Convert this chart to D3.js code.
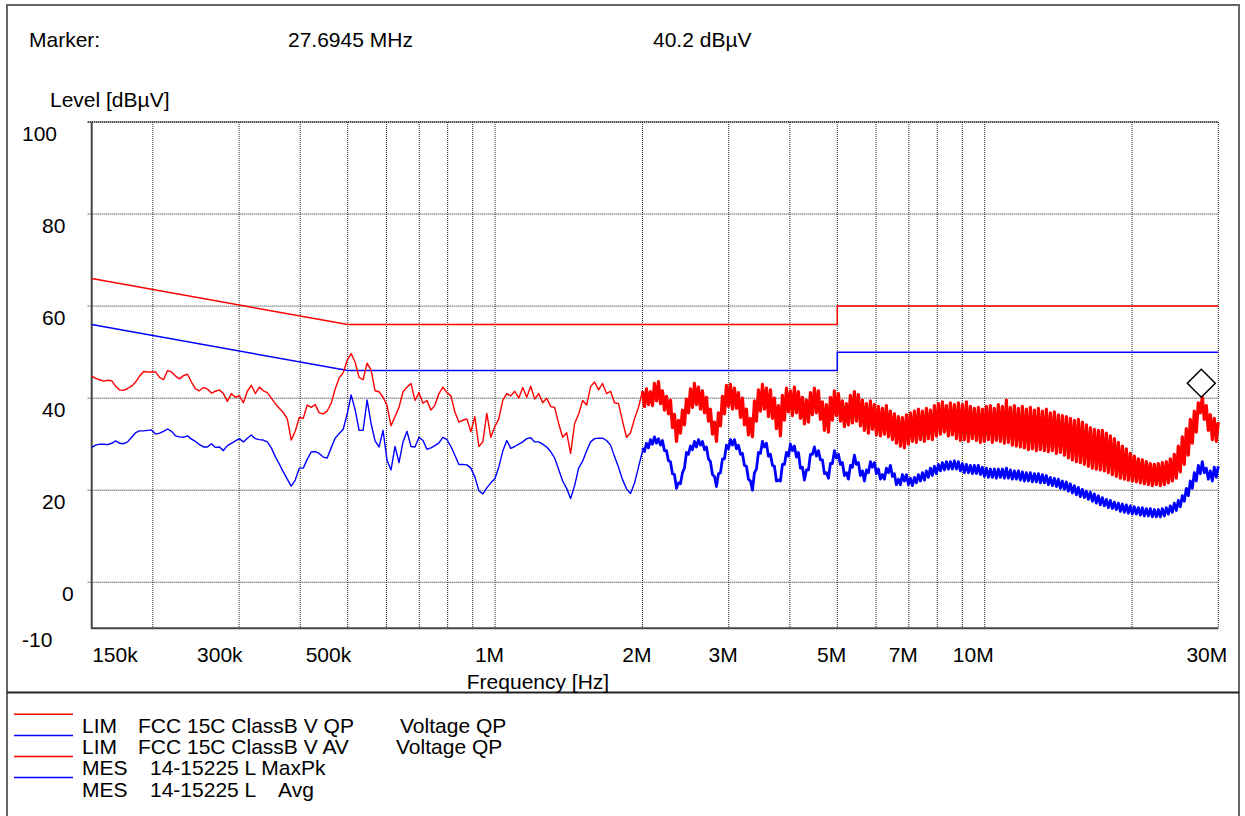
<!DOCTYPE html>
<html>
<head>
<meta charset="utf-8">
<script src="https://cdn.jsdelivr.net/npm/d3@7"></script>
<style>
  body { margin: 0; background: #fff; }
  svg text { font-family: "Liberation Sans", Arial, sans-serif; font-size: 21px; fill: #000; }
</style>
</head>
<body>
<svg id="chart" width="1245" height="816"></svg>
<script>
// ---- data ----
var levelTicks = [100, 80, 60, 40, 20, 0, -10];
var gridLevels = [0, 20, 40, 60, 80, 100];
var freqGrid = [2e5, 3e5, 4e5, 5e5, 6e5, 7e5, 8e5, 9e5, 1e6, 2e6, 3e6, 4e6, 5e6, 6e6, 7e6, 8e6, 9e6, 1e7, 2e7, 3e7];
var freqTicks = [1.5e5, 3e5, 5e5, 1e6, 2e6, 3e6, 5e6, 7e6, 1e7, 3e7];
var freqLabels = ["150k", "300k", "500k", "1M", "2M", "3M", "5M", "7M", "10M", "30M"];

// limit lines (FCC 15C class B, voltage)
var qpFreq = [1.5e5, 5e5, 5e6, 5e6, 3e7];
var qpLevel = [66, 56, 56, 60, 60];
var avFreq = [1.5e5, 5e5, 5e6, 5e6, 3e7];
var avLevel = [56, 46, 46, 50, 50];

// receiver sweeps: two frequency bands, points log-spaced inside each band
var lowBand = [1.5e5, 2e6];
var highBand = [2e6, 3e7];

var maxPkLow = [
  44.8,44.3,44.0,43.7,43.9,43.8,42.6,41.8,41.7,42.1,
  42.6,43.5,44.8,45.8,45.7,45.7,45.7,44.5,44.0,46.0,
  45.7,44.8,44.2,44.9,45.2,43.5,42.0,41.6,42.3,42.0,
  41.1,41.5,41.8,41.0,39.3,41.0,40.2,40.5,39.0,41.5,
  42.8,41.0,42.4,41.6,41.2,40.0,38.8,37.8,36.9,35.5,
  30.9,32.8,35.8,35.6,38.5,38.0,38.6,36.8,36.6,37.2,
  38.9,42.0,44.4,45.5,48.2,49.7,47.8,44.5,44.0,47.6,
  46.1,41.6,41.4,40.2,38.4,34.0,36.0,38.0,41.4,42.4,
  43.2,39.5,41.2,38.9,39.5,37.4,38.5,41.0,42.4,41.2,
  40.5,37.0,34.8,35.2,35.5,32.7,36.0,29.5,30.5,36.7,
  31.5,33.8,35.5,39.5,41.0,40.5,41.5,40.0,42.3,40.2,
  42.6,39.8,41.0,39.0,40.0,38.2,38.0,34.5,31.5,32.5,
  28.0,34.5,36.5,39.5,38.5,42.5,43.5,41.8,43.2,41.0,
  41.5,39.0,38.8,35.0,31.5,32.5,35.5,38.0,41.5
];

var maxPkHigh = [
  41.5,38.2,42.0,38.6,41.4,38.4,43.2,39.4,43.6,38.8,
  41.6,37.4,40.4,36.6,39.6,33.6,36.5,30.6,35.2,32.4,
  37.4,34.2,39.8,36.8,42.0,38.0,43.2,38.6,42.4,37.6,
  41.6,36.8,40.2,35.0,37.6,32.2,34.8,30.6,36.8,34.0,
  40.4,36.6,42.8,38.2,43.0,37.6,42.2,37.8,41.2,35.8,
  40.0,34.2,37.6,32.0,35.6,31.6,39.4,35.0,41.8,37.2,
  43.0,37.6,42.2,36.0,41.8,35.6,40.0,33.4,38.4,31.8,
  40.6,35.2,42.2,37.0,41.6,36.2,42.4,36.8,41.4,35.6,
  40.2,34.4,39.6,34.8,41.2,36.4,42.2,36.8,41.6,35.4,
  39.2,33.0,38.6,32.6,40.2,35.2,41.6,36.2,41.0,35.0,
  39.4,33.8,38.8,34.2,40.6,34.6,41.4,35.0,40.8,34.0,
  39.6,33.0,38.8,32.4,39.4,33.2,38.6,32.0,38.2,31.8,
  37.8,32.2,38.4,31.6,37.2,31.0,36.6,30.2,36.0,29.6,
  35.8,29.2,36.4,30.0,36.8,30.6,37.2,30.4,37.6,31.0,
  37.2,30.6,37.8,31.2,37.4,31.0,38.4,31.8,38.8,32.2,
  39.2,32.6,38.4,31.8,39.0,32.0,38.6,31.2,39.0,30.8,
  38.6,31.0,39.2,30.6,38.2,31.2,37.8,30.8,38.0,30.4,
  37.6,30.6,38.2,31.0,38.4,30.4,37.8,30.8,38.6,30.6,
  38.2,30.2,39.6,30.4,38.0,29.8,38.4,29.6,37.8,29.4,
  38.2,29.2,37.6,28.8,38.0,29.0,37.4,28.6,37.8,28.8,
  37.2,28.6,37.6,28.4,36.8,28.6,37.0,28.0,36.4,28.2,
  36.2,27.6,36.0,27.0,35.6,26.6,35.2,26.2,35.4,26.0,
  34.8,25.6,34.2,25.2,33.6,24.8,33.2,24.6,33.0,24.4,
  33.0,24.2,32.4,23.8,31.8,23.4,31.2,23.0,30.4,22.6,
  29.6,22.4,29.0,22.2,28.0,22.0,27.4,21.8,26.8,21.6,
  26.6,21.4,26.2,21.2,25.8,21.0,25.6,21.2,25.8,21.0,
  26.0,21.2,26.2,21.6,26.8,22.0,27.8,22.6,29.6,24.0,
  31.6,25.6,33.4,27.6,35.4,30.2,37.2,32.6,39.0,36.8,
  40.2,35.4,38.4,33.0,36.4,31.0,35.6,30.6,34.8
];

var avgLow = [
  29.3,29.8,30.0,30.0,29.9,30.2,30.7,30.2,30.1,30.5,
  31.5,32.5,32.9,32.9,33.0,33.1,32.2,32.4,32.8,33.3,
  32.8,31.8,31.6,31.5,31.8,31.1,30.6,29.9,29.4,29.4,
  30.1,29.3,29.4,28.6,29.7,30.2,30.7,31.2,30.5,31.3,
  32.0,31.2,31.0,30.9,30.5,29.2,27.3,25.7,24.0,22.4,
  20.9,22.2,24.8,24.8,26.7,28.3,28.4,28.0,27.2,27.0,
  29.2,31.3,32.3,33.2,36.5,40.7,37.5,33.0,33.0,39.6,
  34.5,30.7,29.4,33.0,26.5,24.4,29.5,26.0,30.5,32.8,
  29.5,29.4,31.5,30.8,28.9,29.2,29.7,30.3,31.5,31.0,
  29.5,27.6,25.6,25.6,25.5,24.8,22.9,19.9,19.2,20.5,
  21.6,22.5,25.0,28.5,30.8,29.1,29.5,30.0,30.5,31.2,
  31.4,30.5,30.5,30.0,29.4,28.4,27.0,24.5,22.0,20.4,
  18.2,21.0,24.8,26.3,28.5,30.5,31.2,31.3,31.3,30.8,
  29.8,27.3,25.0,22.3,20.3,19.3,21.5,25.0,28.5
];

var avgHigh = [
  29.2,28.4,30.2,29.2,31.0,30.0,31.6,30.2,31.2,29.8,
  30.8,28.6,28.6,26.4,26.2,23.6,23.4,20.4,21.6,21.4,
  23.8,24.8,28.2,27.8,29.6,28.8,30.6,29.4,31.0,29.8,
  30.6,28.8,29.4,26.8,26.2,23.4,23.0,20.8,23.6,23.8,
  26.8,26.8,29.8,29.0,31.0,29.8,31.0,29.0,29.8,27.8,
  28.0,25.4,25.2,22.4,22.0,20.0,23.8,24.6,28.2,28.0,
  30.6,29.4,30.2,27.4,27.8,25.4,25.2,22.0,22.2,22.0,
  25.6,25.6,28.2,27.4,30.0,28.6,29.6,27.2,28.2,24.8,
  25.0,22.2,24.4,24.4,27.8,27.8,29.4,27.4,28.6,26.6,
  26.6,23.6,23.8,22.6,25.8,25.8,28.6,27.0,27.8,25.6,
  26.0,23.2,23.8,22.4,25.4,25.0,27.6,25.6,26.0,23.2,
  24.2,22.0,24.4,23.8,26.2,25.0,26.0,23.6,24.6,22.4,
  23.4,22.4,24.8,23.8,25.4,23.0,23.6,21.2,22.4,21.2,
  23.4,22.0,23.4,21.2,22.6,21.0,22.8,21.6,23.4,22.0,
  23.8,22.2,24.2,22.8,24.8,23.2,25.2,23.6,25.6,24.2,
  26.0,24.4,26.2,24.6,26.2,24.6,26.4,24.6,26.2,24.2,
  25.8,23.8,25.6,23.8,25.4,23.6,25.4,23.6,25.4,23.4,
  25.0,23.0,24.8,22.8,24.6,22.8,24.6,22.6,24.6,22.8,
  24.6,22.6,24.8,22.6,24.4,22.4,24.2,22.4,24.2,22.2,
  24.0,22.0,23.8,22.0,23.8,21.8,23.6,21.8,23.6,21.6,
  23.4,21.6,23.2,21.2,22.8,21.0,22.6,20.8,22.4,20.4,
  22.0,20.2,21.8,19.8,21.4,19.4,21.0,19.0,20.6,18.6,
  20.2,18.4,19.8,18.0,19.6,17.6,19.2,17.2,18.8,16.8,
  18.4,16.6,18.0,16.2,17.8,16.0,17.4,15.8,17.2,15.4,
  17.0,15.2,16.8,15.0,16.6,14.8,16.4,14.8,16.2,14.6,
  16.2,14.4,16.0,14.4,16.0,14.2,15.8,14.2,15.8,14.2,
  16.0,14.4,16.2,14.8,16.6,15.2,17.2,15.6,17.8,16.4,
  18.8,17.6,20.4,18.8,22.0,20.4,23.8,22.0,25.4,23.6,
  26.2,23.8,24.8,22.4,24.2,22.0,25.0,22.8,25.2
];

var markerFreq = 27.6945e6;
var markerLevel = 40.2;

var legendType = ["LIM", "LIM", "MES", "MES"];
var legendName = ["FCC 15C ClassB V QP", "FCC 15C ClassB V AV", "14-15225 L MaxPk", "14-15225 L"];
var legendExtra = ["Voltage QP", "Voltage QP", "", "Avg"];
var legendColor = ["#ff0000", "#0000ff", "#ff0000", "#0000ff"];

// ---- layout ----
var plot = {left: 91.7, top: 122, right: 1218.3, bottom: 628.3};

var svg = d3.select("#chart");

var x = d3.scaleLog().domain([1.5e5, 3e7]).range([plot.left, plot.right]);
var y = d3.scaleLinear().domain([-10, 100]).range([plot.bottom, plot.top]);

function sweep(band, values) {
  var n = values.length - 1;
  return values.map(function(v, i) {
    return {f: band[0] * Math.pow(band[1] / band[0], i / n), v: v};
  });
}
function pairs(fs, vs) {
  return fs.map(function(f, i) { return {f: f, v: vs[i]}; });
}

var line = d3.line()
  .x(function(d) { return x(d.f); })
  .y(function(d) { return y(d.v); });

// outer frame + separator
svg.append("rect")
  .attr("x", 7).attr("y", 5)
  .attr("width", 1232).attr("height", 830)
  .attr("fill", "none")
  .attr("stroke", "#666")
  .attr("stroke-width", 2);

svg.append("line")
  .attr("x1", 7).attr("x2", 1239)
  .attr("y1", 692.5).attr("y2", 692.5)
  .attr("stroke", "#222")
  .attr("stroke-width", 2);

// header
svg.append("text").attr("x", 29).attr("y", 47).text("Marker:");
svg.append("text").attr("x", 288).attr("y", 47).text(d3.format(".4f")(markerFreq / 1e6) + " MHz");
svg.append("text").attr("x", 653).attr("y", 47).text(d3.format(".1f")(markerLevel) + " dBµV");
svg.append("text").attr("x", 50).attr("y", 106.5).text("Level [dBµV]");

// grid
var grid = svg.append("g").attr("class", "grid");

grid.selectAll(".hgrid")
  .data(gridLevels)
  .enter().append("line")
  .attr("x1", plot.left - 4)
  .attr("x2", plot.right)
  .attr("y1", function(d) { return y(d); })
  .attr("y2", function(d) { return y(d); })
  .attr("stroke", function(d) { return d == 100 ? "#000" : "#222"; })
  .attr("stroke-width", function(d) { return d == 100 ? 2 : 1; })
  .attr("stroke-dasharray", "1,1");

grid.selectAll(".vgrid")
  .data(freqGrid)
  .enter().append("line")
  .attr("x1", function(d) { return x(d); })
  .attr("x2", function(d) { return x(d); })
  .attr("y1", plot.top)
  .attr("y2", plot.bottom)
  .attr("stroke", "#222")
  .attr("stroke-width", 1)
  .attr("stroke-dasharray", "1,1");

// axes (left + bottom solid)
svg.append("path")
  .attr("d", "M" + plot.left + "," + plot.top + "V" + plot.bottom + "H" + plot.right)
  .attr("fill", "none")
  .attr("stroke", "#444")
  .attr("stroke-width", 2);

// tick labels
svg.selectAll(".ylab")
  .data(levelTicks)
  .enter().append("text")
  .attr("x", function(d) { return 22 + (3 - String(d).length) * 20; })
  .attr("y", function(d) { return y(d) + 19; })
  .text(function(d) { return d; });

svg.selectAll(".xlab")
  .data(freqTicks)
  .enter().append("text")
  .attr("text-anchor", function(d, i) { return i == 0 ? "start" : "end"; })
  .attr("x", function(d, i) {
    if (i == 0) return x(d) + 0.5;
    return x(d) + (d < 1e6 ? 3.5 : 9);
  })
  .attr("y", 662)
  .text(function(d, i) { return freqLabels[i]; });

svg.append("text")
  .attr("x", 538).attr("y", 689)
  .attr("text-anchor", "middle")
  .text("Frequency [Hz]");

// limit lines
svg.append("path")
  .datum(pairs(qpFreq, qpLevel))
  .attr("fill", "none")
  .attr("stroke", "#ff0000")
  .attr("stroke-width", 1.5)
  .attr("d", line);

svg.append("path")
  .datum(pairs(avFreq, avLevel))
  .attr("fill", "none")
  .attr("stroke", "#0000ff")
  .attr("stroke-width", 1.5)
  .attr("d", line);

// measured traces: dense upper band drawn heavier so the noise reads as a solid band
function trace(values, band, color, width) {
  svg.append("path")
    .datum(sweep(band, values))
    .attr("fill", "none")
    .attr("stroke", color)
    .attr("stroke-width", width)
    .attr("stroke-linejoin", "round")
    .attr("d", line);
}
trace(avgLow, lowBand, "#0000ff", 1.4);
trace(avgHigh, highBand, "#0000ff", 2.8);
trace(maxPkLow, lowBand, "#ff0000", 1.4);
trace(maxPkHigh, highBand, "#ff0000", 3.2);

// marker diamond sitting on the peak
svg.append("path")
  .attr("d", d3.symbol().type(d3.symbolSquare).size(392)())
  .attr("transform", "translate(" + x(markerFreq) + "," + (y(markerLevel) - 14) + ") rotate(45)")
  .attr("fill", "none")
  .attr("stroke", "#000")
  .attr("stroke-width", 1.5);

// legend
var legend = svg.append("g").attr("class", "legend");
var nameX = [138, 138, 150, 150];
var extraX = [400, 396, 0, 278];

legendType.forEach(function(t, i) {
  legend.append("line")
    .attr("x1", 14).attr("x2", 73)
    .attr("y1", 714.3 + 21.1 * i).attr("y2", 714.3 + 21.1 * i)
    .attr("stroke", legendColor[i])
    .attr("stroke-width", 1.5);
  var by = 733 + 21.2 * i;
  legend.append("text").attr("x", 82).attr("y", by).text(t);
  legend.append("text").attr("x", nameX[i]).attr("y", by).text(legendName[i]);
  if (legendExtra[i]) legend.append("text").attr("x", extraX[i]).attr("y", by).text(legendExtra[i]);
});
</script>
</body>
</html>
